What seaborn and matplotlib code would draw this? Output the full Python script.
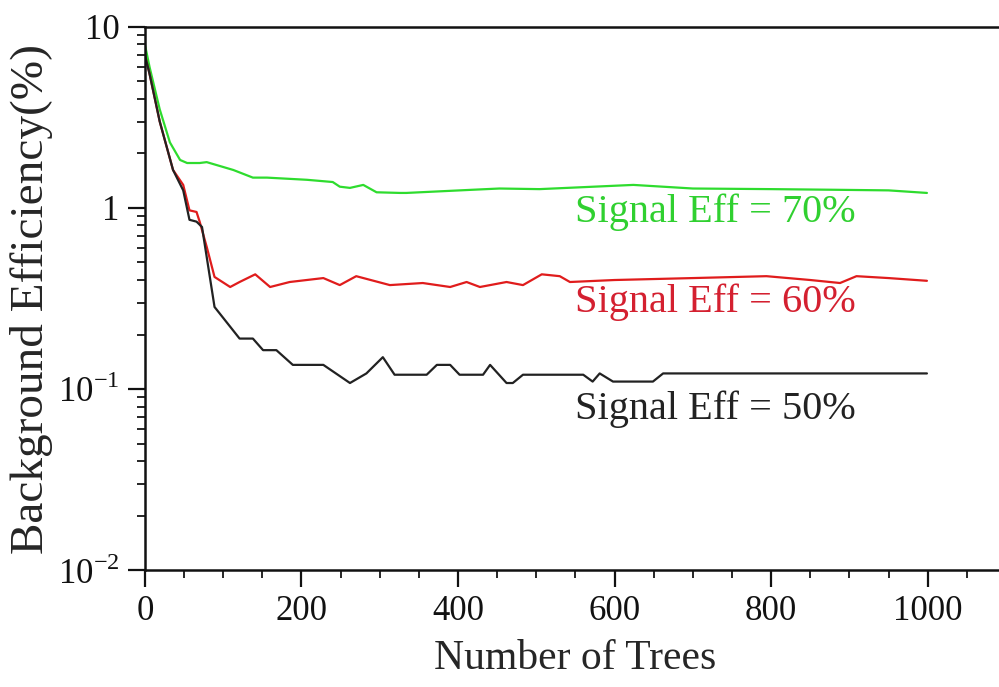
import numpy as np
import pandas as pd
import matplotlib
matplotlib.use("Agg")
import matplotlib.pyplot as plt
import seaborn as sns
from matplotlib.ticker import LogLocator, MultipleLocator, FixedLocator, FixedFormatter, NullFormatter

sns.set_style("ticks")
plt.rcParams["font.family"] = ["Liberation Serif", "DejaVu Serif"]
plt.rcParams["mathtext.fontset"] = "custom"
plt.rcParams["mathtext.rm"] = "Liberation Serif"

# curves (number of trees, background efficiency in %)
green_x = [0, 6, 19, 32, 45, 54, 70, 79, 113, 138, 156, 207, 240, 249, 262, 279, 296, 326,
           334, 419, 453, 504, 539, 624, 700, 800, 879, 950, 999]
green_y = [8.0, 6.0, 3.5, 2.3, 1.84, 1.77, 1.77, 1.79, 1.62, 1.47, 1.47, 1.43, 1.39, 1.31,
           1.29, 1.34, 1.22, 1.21, 1.21, 1.26, 1.28, 1.27, 1.29, 1.34, 1.28, 1.27, 1.26, 1.25, 1.21]

red_x = [0, 6, 19, 36, 49, 57, 66, 70, 79, 89, 109, 121, 141, 160, 185, 228, 249, 270, 313,
         355, 390, 411, 428, 462, 483, 507, 530, 543, 600, 700, 794, 850, 888, 909, 950, 999]
red_y = [7.0, 5.5, 3.0, 1.62, 1.34, 0.97, 0.95, 0.84, 0.61, 0.416, 0.366, 0.39, 0.43, 0.366,
         0.39, 0.41, 0.375, 0.42, 0.375, 0.385, 0.366, 0.39, 0.366, 0.39, 0.375, 0.43, 0.42,
         0.39, 0.40, 0.41, 0.42, 0.40, 0.385, 0.42, 0.41, 0.396]

black_x = [0, 6, 19, 36, 49, 57, 66, 73, 89, 121, 138, 151, 168, 189, 228, 262, 283, 304, 319,
           360, 373, 390, 402, 432, 441, 462, 470, 483, 560, 572, 581, 598, 649, 662, 999]
black_y = [7.0, 5.5, 3.0, 1.62, 1.25, 0.86, 0.84, 0.785, 0.284, 0.19, 0.19, 0.164, 0.164,
           0.136, 0.136, 0.108, 0.122, 0.15, 0.12, 0.12, 0.136, 0.136, 0.12, 0.12, 0.136,
           0.108, 0.108, 0.12, 0.12, 0.11, 0.122, 0.11, 0.11, 0.122, 0.122]

series = ["Signal Eff = 70%", "Signal Eff = 60%", "Signal Eff = 50%"]
colors = ["#2edc2e", "#e01c1c", "#222222"]
text_colors = ["#30d030", "#d42030", "#222222"]
label_pos = [(549, 0.95), (549, 0.30), (549, 0.077)]

df = pd.concat([
    pd.DataFrame({"trees": green_x, "eff": green_y, "curve": series[0]}),
    pd.DataFrame({"trees": red_x, "eff": red_y, "curve": series[1]}),
    pd.DataFrame({"trees": black_x, "eff": black_y, "curve": series[2]}),
])

fig = plt.figure(figsize=(9.99, 6.87), dpi=100)
ax = fig.add_axes([0.145, 0.170, 0.862, 0.791])

sns.lineplot(data=df, x="trees", y="eff", hue="curve", palette=colors,
             linewidth=1.6, legend=False, ax=ax, sort=False)

ax.set_yscale("log")
ax.set_xlim(0, 1100)
ax.set_ylim(0.01, 10)

for name, c, (tx, ty) in zip(series, text_colors, label_pos):
    ax.text(tx, ty, name, color=c, fontsize=29, va="center", ha="left",
            fontfamily="Liberation Serif")

ax.xaxis.set_major_locator(MultipleLocator(200))
ax.xaxis.set_minor_locator(MultipleLocator(50))
ax.yaxis.set_major_locator(FixedLocator([0.01, 0.1, 1, 10]))
ax.yaxis.set_major_formatter(FixedFormatter([r"$10^{-2}$", r"$10^{-1}$", "1", "10"]))
ax.yaxis.set_minor_locator(LogLocator(base=10, subs=np.arange(2, 10)))
ax.yaxis.set_minor_formatter(NullFormatter())

ax.tick_params(axis="both", which="major", direction="out", length=12, width=1.6,
               labelsize=25, pad=6, colors="#111111")
ax.tick_params(axis="both", which="minor", direction="out", length=6, width=1.4)

for side in ["left", "bottom", "top"]:
    ax.spines[side].set_linewidth(1.8)
    ax.spines[side].set_color("#111111")
ax.spines["right"].set_visible(False)

ax.set_xlabel("Number of Trees", fontsize=30, labelpad=8)
ax.set_ylabel("Background Efficiency(%)", fontsize=34, labelpad=4)

fig.savefig("out.png", dpi=100)
